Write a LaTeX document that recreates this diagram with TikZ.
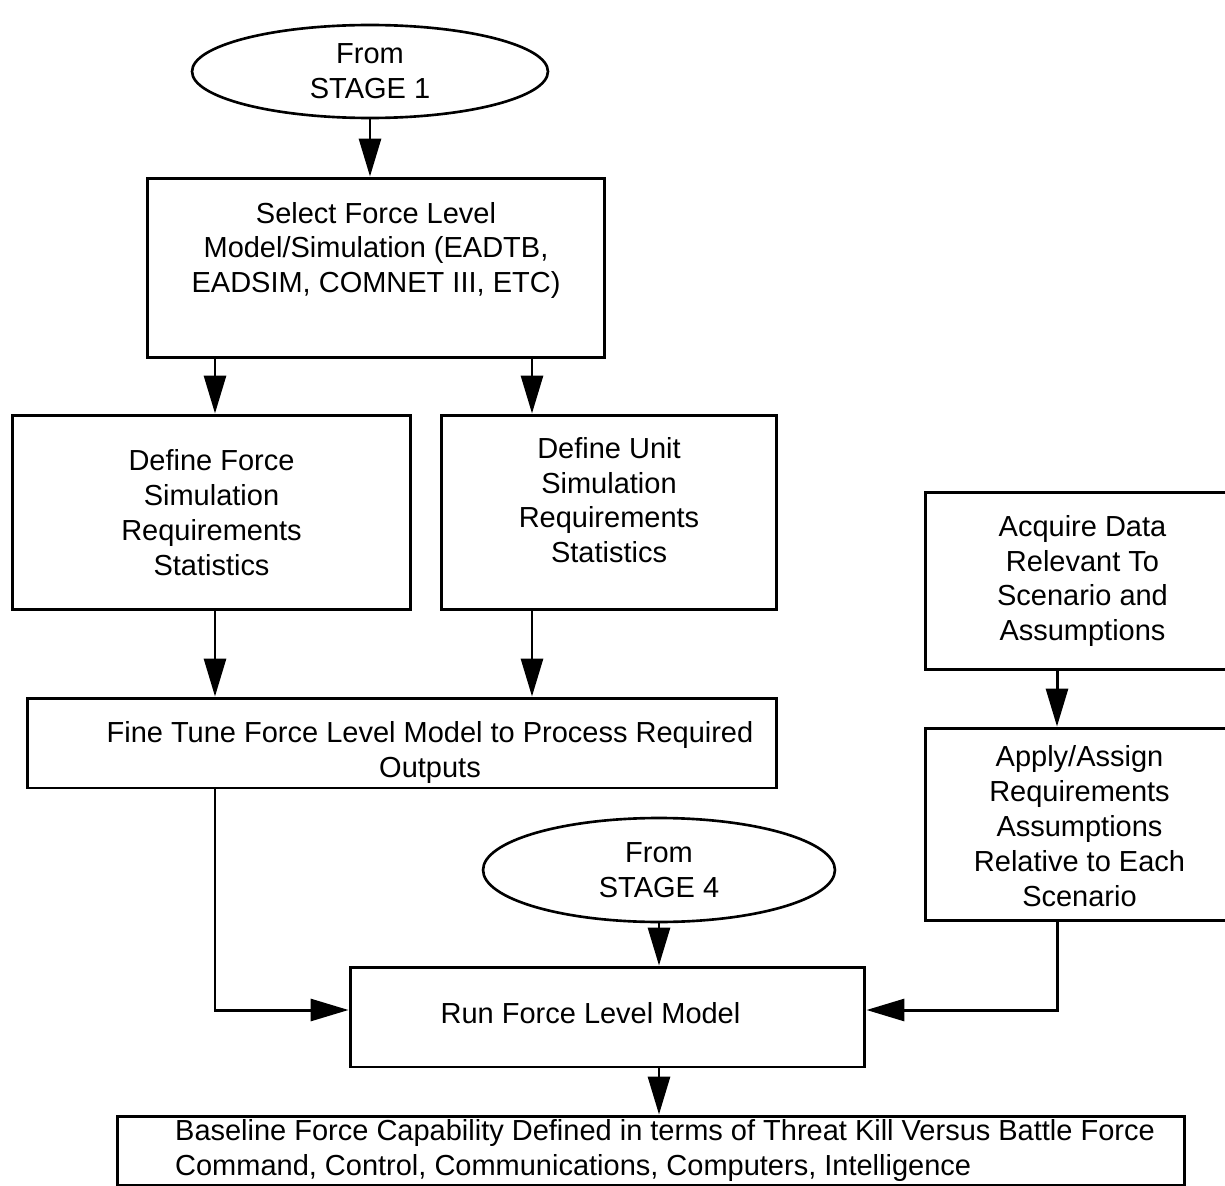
\documentclass[tikz,border=0pt]{standalone}
\usepackage{fontspec}
\setmainfont{Liberation Sans}
\usetikzlibrary{shapes.geometric,arrows.meta}

% text moved inside its box: x shift (twice the offset), lift, lines
\newcommand{\boxtext}[3]{\raisebox{#2}[\height][\depth]{\hspace*{#1}\begin{tabular}{@{}c@{}}#3\end{tabular}}}

\begin{document}
\begin{tikzpicture}[x=0.02cm, y=-0.02cm,
        every node/.style = {font=\fontsize{16.5}{19.9}\selectfont, align=center, inner sep=0pt},
        proc/.style = {draw, line width=1.7pt, rectangle},
        term/.style = {draw, line width=1.5pt, ellipse},
        flow/.style = {line width=1.7pt, -{Triangle[length=0.76cm, width=0.44cm]}}]
        \useasboundingbox (0,0) rectangle (1225,1186);

        \node[term] (stage1) at (370,71.5) [minimum width=7.12cm, minimum height=1.86cm] {From\\STAGE 1};
        \node[proc] (select) at (376,268) [minimum width=9.16cm, minimum height=3.6cm] {\boxtext{0cm}{0.34cm}{Select Force Level\\Model/Simulation (EADTB,\\EADSIM, COMNET III, ETC)}};
        \node[proc] (force) at (211.5,512.5) [minimum width=7.98cm, minimum height=3.9cm] {Define Force\\Simulation\\Requirements\\Statistics};
        \node[proc] (unit) at (609,512.5) [minimum width=6.72cm, minimum height=3.9cm] {\boxtext{0cm}{0.18cm}{Define Unit\\Simulation\\Requirements\\Statistics}};
        \node[proc] (acquire) at (1082.5,581) [minimum width=6.3cm, minimum height=3.56cm] {Acquire Data\\Relevant To\\Scenario and\\Assumptions};
        \node[proc] (finetune) at (402,743) [minimum width=15cm, minimum height=1.8cm] {\boxtext{1.12cm}{-0.2cm}{Fine Tune Force Level Model to Process Required\\Outputs}};
        \node[proc] (apply) at (1082.5,824.5) [minimum width=6.3cm, minimum height=3.86cm] {\boxtext{-0.12cm}{-0.1cm}{Apply/Assign\\Requirements\\Assumptions\\Relative to Each\\Scenario}};
        \node[term] (stage4) at (659,870) [minimum width=7.04cm, minimum height=2.08cm] {From\\STAGE 4};
        \node[proc] (run) at (607.5,1017) [minimum width=10.3cm, minimum height=2cm] {\boxtext{-0.68cm}{0cm}{Run Force Level Model}};
        \node[proc] (base) at (651,1151) [minimum width=21.36cm, minimum height=1.32cm] {\hspace*{0.56cm}\begin{tabular}{@{}l@{}}Baseline Force Capability Defined in terms of Threat Kill Versus Battle Force\\Command, Control, Communications, Computers, Intelligence\end{tabular}};

        \coordinate (c1) at (215,0);
        \coordinate (c2) at (532,0);
        \coordinate (c3) at (1057,0);

        \draw[flow] (stage1.south) -- (select.north -| stage1.south);
        \draw[flow] (select.south -| c1) -- (force.north -| c1);
        \draw[flow] (select.south -| c2) -- (unit.north -| c2);
        \draw[flow] (force.south -| c1) -- (finetune.north -| c1);
        \draw[flow] (unit.south -| c2) -- (finetune.north -| c2);
        \draw[flow] (acquire.south -| c3) -- (apply.north -| c3);
        \draw[flow] (stage4.south) -- (run.north -| stage4.south);
        \draw[flow] (finetune.south -| c1) |- ([yshift=0.14cm]run.west);
        \draw[flow] (apply.south -| c3) |- ([yshift=0.14cm]run.east);
        \draw[flow] (run.south -| stage4.south) -- (base.north -| stage4.south);
\end{tikzpicture}
\end{document}
